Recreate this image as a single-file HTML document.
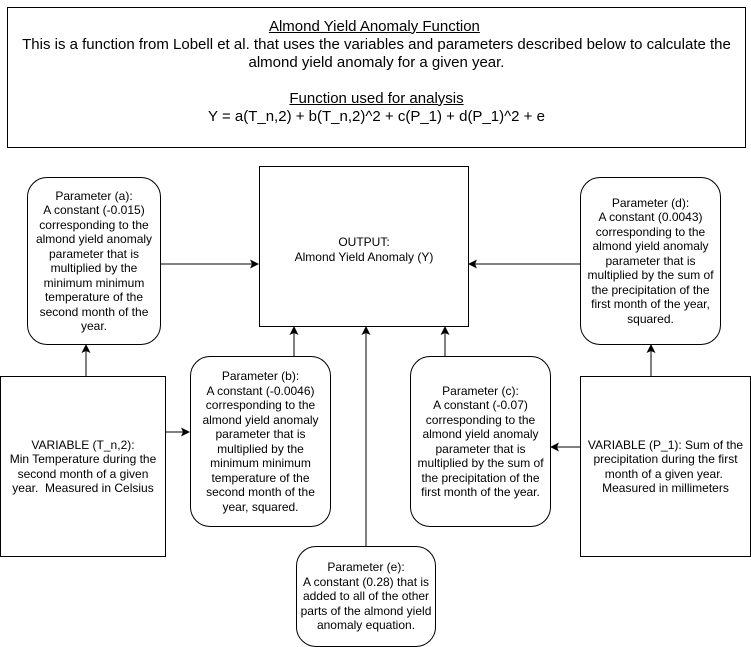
<!DOCTYPE html>
<html><head><meta charset="utf-8"><style>
body{margin:0;width:751px;height:647px;background:#fff;position:relative;overflow:hidden;font-family:"Liberation Sans",sans-serif;color:#000}
.b{position:absolute;box-sizing:border-box;border:1px solid #000;background:#fff;display:flex;align-items:center;justify-content:center;text-align:center;font-size:12px;line-height:14.5px}
.r{border-radius:20px}
svg{position:absolute;left:0;top:0}
</style></head><body>
<div class="b" style="left:7px;top:7px;width:739px;height:141px;font-size:15px;line-height:18px;flex-direction:column;padding-bottom:12px">
<div><u>Almond Yield Anomaly Function</u>&nbsp;</div>
<div>This is a function from Lobell et al. that uses the variables and parameters described below to calculate the almond yield anomaly for a given year.</div>
<div>&nbsp;</div>
<div><u>Function used for analysis</u></div>
<div>Y = a(T_n,2) + b(T_n,2)^2 + c(P_1) + d(P_1)^2 + e</div>
</div>
<svg width="751" height="647">
<g stroke="#000" stroke-width="1" fill="none">
<line x1="160" y1="264" x2="252" y2="264"/>
<line x1="580" y1="264" x2="475" y2="264"/>
<line x1="86" y1="376" x2="86" y2="351"/>
<line x1="294" y1="356" x2="294" y2="333"/>
<line x1="366" y1="546" x2="366" y2="333"/>
<line x1="445" y1="356" x2="445" y2="333"/>
<line x1="651" y1="376" x2="651" y2="351"/>
<line x1="165" y1="432" x2="183" y2="432"/>
<line x1="580" y1="447" x2="557" y2="447"/>
</g>
<g fill="#000">
<path d="M259 264l-9 -4.5 2 4.5 -2 4.5z"/>
<path d="M468 264l9 -4.5 -2 4.5 2 4.5z"/>
<path d="M86 344l-4.5 9 4.5 -2 4.5 2z"/>
<path d="M294 326l-4.5 9 4.5 -2 4.5 2z"/>
<path d="M366 326l-4.5 9 4.5 -2 4.5 2z"/>
<path d="M445 326l-4.5 9 4.5 -2 4.5 2z"/>
<path d="M651 344l-4.5 9 4.5 -2 4.5 2z"/>
<path d="M190 432l-9 -4.5 2 4.5 -2 4.5z"/>
<path d="M550 447l9 -4.5 -2 4.5 2 4.5z"/>
</g>
</svg>
<div class="b r" style="left:27px;top:177px;width:134px;height:168px">Parameter (a):<br>A constant (-0.015) corresponding to the almond yield anomaly parameter that is multiplied by the minimum minimum temperature of the second month of the year.</div>
<div class="b" style="left:259px;top:166px;width:210px;height:161px;align-items:flex-start;padding-top:68px">OUTPUT:<br>Almond Yield Anomaly (Y)</div>
<div class="b r" style="left:580px;top:177px;width:141px;height:168px;padding:0 4px">Parameter (d):<br>A constant (0.0043) corresponding to the almond yield anomaly parameter that is multiplied by the sum of the precipitation of the first month of the year, squared.</div>
<div class="b" style="left:0px;top:376px;width:166px;height:181px;padding:0 4px">VARIABLE (T_n,2):<br>Min Temperature during the second month of a given year.&nbsp; Measured in Celsius</div>
<div class="b r" style="left:190px;top:356px;width:141px;height:171px;padding:0 6px">Parameter (b):<br>A constant (-0.0046) corresponding to the almond yield anomaly parameter that is multiplied by the minimum minimum temperature of the second month of the year, squared.</div>
<div class="b r" style="left:410px;top:356px;width:141px;height:171px;padding:0 3px">Parameter (c):<br>A constant (-0.07) corresponding to the almond yield anomaly parameter that is multiplied by the sum of the precipitation of the first month of the year.</div>
<div class="b" style="left:580px;top:376px;width:171px;height:181px;padding:0 3px">VARIABLE (P_1): Sum of the precipitation during the first month of a given year.&nbsp; Measured in millimeters</div>
<div class="b r" style="left:296px;top:546px;width:140px;height:101px;padding:0 3px">Parameter (e):<br>A constant (0.28) that is added to all of the other parts of the almond yield anomaly equation.</div>
</body></html>
